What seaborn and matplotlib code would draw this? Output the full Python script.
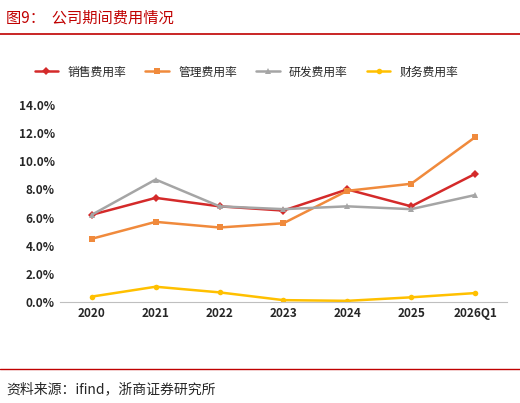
import matplotlib
matplotlib.use("Agg")
import matplotlib.pyplot as plt
import seaborn as sns
import pandas as pd
from matplotlib.ticker import FuncFormatter

years = ["2020", "2021", "2022", "2023", "2024", "2025", "2026Q1"]
sales = [6.2, 7.4, 6.8, 6.5, 8.0, 6.8, 9.1]
admin = [4.5, 5.7, 5.3, 5.6, 7.9, 8.4, 11.7]
rnd = [6.2, 8.7, 6.8, 6.6, 6.8, 6.6, 7.6]
fin = [0.4, 1.1, 0.7, 0.15, 0.1, 0.35, 0.65]
names = ["销售费用率", "管理费用率", "研发费用率", "财务费用率"]
colors = ["#D42A2A", "#F08A3C", "#A5A5A5", "#FFC000"]
markers = ["D", "s", "^", "o"]

sns.set_style("white")
plt.rcParams['font.family'] = ['Noto Sans CJK SC', 'DejaVu Sans']

df = pd.DataFrame({"year": years * 4,
                   "val": sales + admin + rnd + fin,
                   "series": sum([[n] * len(years) for n in names], [])})

fig = plt.figure(figsize=(5.2, 4.03), dpi=100)
ax = fig.add_axes([0.115, 0.25, 0.86, 0.49])
sns.lineplot(data=df, x="year", y="val", hue="series", style="series",
             palette=colors, markers=markers, dashes=False, markersize=4,
             markeredgewidth=0, linewidth=1.8, ax=ax, sort=False)
ax.set_ylim(0, 14)
ax.set_yticks(range(0, 15, 2))
ax.yaxis.set_major_formatter(FuncFormatter(lambda v, p: f"{v:.1f}%"))
ax.set_xlim(-0.5, 6.5)
ax.set_xlabel(""); ax.set_ylabel("")
for s in ["top", "right", "left"]:
    ax.spines[s].set_visible(False)
ax.spines["bottom"].set_color("#BFBFBF")
ax.tick_params(labelsize=8.5, length=0)
for t in ax.get_xticklabels() + ax.get_yticklabels():
    t.set_fontweight("bold")
ax.legend(loc="lower left", bbox_to_anchor=(-0.08, 1.08), ncol=4, frameon=False,
          fontsize=8.5, handlelength=2, columnspacing=1.6, title=None)

fig.text(0.012, 0.955, "图9：  公司期间费用情况", color="#C00000", fontsize=11, va="center")
fig.add_artist(plt.Line2D([0.0, 1.0], [0.915, 0.915], color="#C00000", lw=1.2))
fig.add_artist(plt.Line2D([0.0, 1.0], [0.085, 0.085], color="#C00000", lw=1.0))
fig.text(0.012, 0.035, "资料来源：ifind，浙商证券研究所", fontsize=10, va="center")
fig.savefig("out.png", dpi=100)
